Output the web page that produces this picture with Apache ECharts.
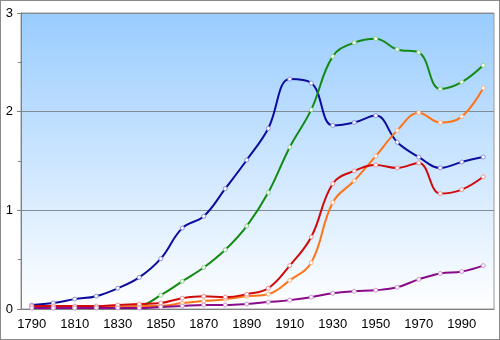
<!DOCTYPE html>
<html><head><meta charset="utf-8">
<script src="https://cdn.jsdelivr.net/npm/echarts@6/dist/echarts.min.js"></script>
<style>html,body{margin:0;padding:0;background:#fff}#c{width:500px;height:340px;box-sizing:border-box;border:1px solid #8a8a8a}</style>
</head><body><div id="c"></div>
<script>
var years = ['1790','1800','1810','1820','1830','1840','1850','1860','1870','1880','1890','1900','1910','1920','1930','1940','1950','1960','1970','1980','1990','2000'];
var blue   = [0.04,0.06,0.10,0.13,0.21,0.32,0.51,0.82,0.94,1.22,1.51,1.83,2.33,2.29,1.86,1.89,1.96,1.69,1.54,1.43,1.49,1.54];
var green  = [0.01,0.01,0.01,0.01,0.02,0.03,0.14,0.28,0.42,0.60,0.84,1.18,1.64,2.02,2.56,2.70,2.74,2.63,2.60,2.23,2.30,2.47];
var orange = [0.02,0.02,0.02,0.02,0.02,0.03,0.03,0.06,0.08,0.10,0.13,0.15,0.29,0.47,1.08,1.30,1.55,1.81,1.99,1.89,1.95,2.24];
var red    = [0.03,0.03,0.03,0.03,0.04,0.05,0.06,0.11,0.13,0.12,0.15,0.21,0.44,0.73,1.27,1.40,1.46,1.43,1.48,1.17,1.21,1.34];
var purple = [0.01,0.01,0.01,0.01,0.01,0.01,0.02,0.03,0.04,0.04,0.05,0.07,0.09,0.12,0.16,0.18,0.19,0.22,0.30,0.36,0.38,0.44];

var chart = echarts.init(document.getElementById('c'), null, {renderer:'canvas'});
function mk(name, data, col, mcol){
  return {name:name, type:'line', data:data, smooth:0.4, symbol:'circle', symbolSize:4,
    lineStyle:{color:col, width:2}, itemStyle:{color:'#ffffff', borderColor:mcol, borderWidth:1},
    emphasis:{disabled:true}, animation:false};
}
chart.setOption({
  animation:false,
  grid:{left:20, right:5, top:12, bottom:30, show:true, borderColor:'#9a9a9a', borderWidth:1,
    backgroundColor:{type:'linear',x:0,y:0,x2:0,y2:1,colorStops:[{offset:0,color:'#99ccff'},{offset:1,color:'#ffffff'}]}},
  xAxis:{type:'category', data:years, boundaryGap:true,
    axisLine:{lineStyle:{color:'#808080'}},
    axisTick:{interval:0, length:5, lineStyle:{color:'#808080'}},
    axisLabel:{interval:1, color:'#000', fontFamily:'Liberation Sans', fontSize:13, margin:9},
    splitLine:{show:false}},
  yAxis:{type:'value', min:0, max:3, interval:1,
    axisLine:{show:true, lineStyle:{color:'#808080'}},
    axisTick:{show:true, length:4, lineStyle:{color:'#808080'}},
    minorTick:{show:true, splitNumber:2, length:3, lineStyle:{color:'#808080'}},
    axisLabel:{color:'#000', fontFamily:'Liberation Sans', fontSize:13, margin:8},
    splitLine:{show:true, lineStyle:{color:'#7f8c96', width:1}}},
  series:[
    mk('blue', blue, '#0c0c9c', '#8f8fe0'),
    mk('green', green, '#138a13', '#8fd08f'),
    mk('orange', orange, '#ff7418', '#ffb080'),
    mk('red', red, '#d00a0a', '#f09090'),
    mk('purple', purple, '#8a0a8a', '#d090d0')
  ]
});
</script></body></html>
